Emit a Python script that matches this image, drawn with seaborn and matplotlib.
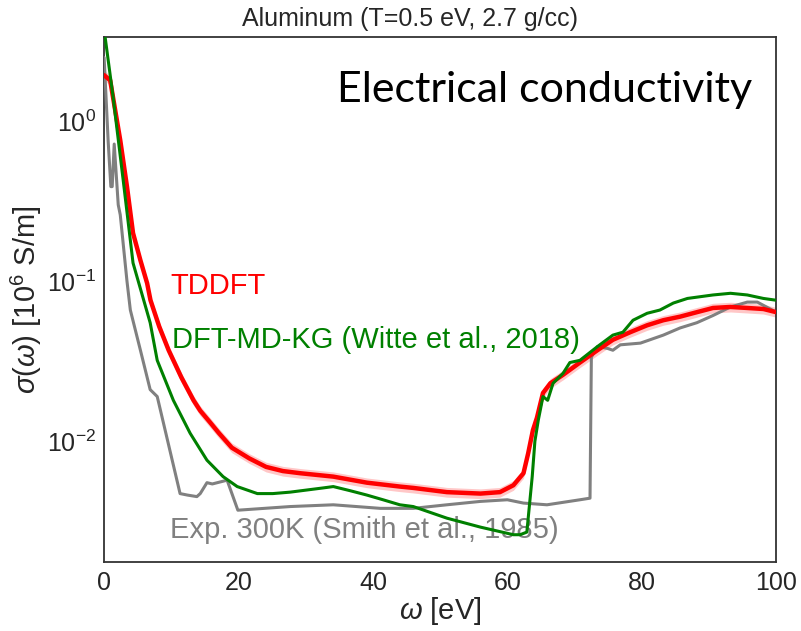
import numpy as np
import pandas as pd
import seaborn as sns
import matplotlib
matplotlib.use("Agg")
import matplotlib.pyplot as plt

# ---- data ----
tddft_w = [0.0, 0.9, 2.4, 3.4, 4.3, 5.4, 6.4, 6.9, 8.2, 9.6, 11.5, 13.3, 14.3, 15.7, 17.1,
           19.0, 21.6, 24.1, 26.6, 29.2, 34.1, 39.1, 44.0, 46.0, 51.0, 56.0, 58.9, 60.9,
           62.4, 63.1, 63.8, 64.4, 65.3, 66.4, 68.3, 70.8, 73.4, 75.7, 78.3, 80.8, 83.2,
           85.7, 88.2, 90.6, 93.2, 95.7, 98.1, 100.0]
tddft_s = [1.94, 1.80, 0.76, 0.39, 0.20, 0.135, 0.097, 0.076, 0.052, 0.037, 0.025, 0.018,
           0.0155, 0.0132, 0.0112, 0.0091, 0.0078, 0.0069, 0.0065, 0.0063, 0.0060, 0.0055,
           0.0052, 0.0051, 0.0048, 0.0047, 0.0048, 0.0053, 0.0063, 0.0084, 0.0117, 0.014,
           0.020, 0.023, 0.026, 0.031, 0.037, 0.043, 0.048, 0.053, 0.057, 0.060, 0.064,
           0.068, 0.069, 0.068, 0.067, 0.064]

kg_w = [0.0, 0.15, 1.34, 2.83, 4.3, 6.85, 7.9, 10.3, 12.8, 15.3, 17.7, 19.8, 22.8, 25.1,
        27.7, 32.6, 34.1, 36.6, 39.1, 41.5, 44.0, 46.0, 51.0, 56.0, 60.9, 61.9, 62.9,
        63.7, 64.1, 64.6, 65.3, 66.0, 66.8, 68.3, 69.3, 70.8, 73.4, 75.7, 77.2, 78.7,
        80.8, 82.7, 84.7, 86.8, 90.6, 93.2, 95.7, 98.1, 100.0]
kg_s = [4.0, 3.35, 1.41, 0.43, 0.13, 0.055, 0.032, 0.018, 0.0112, 0.0076, 0.0060,
        0.0052, 0.0047, 0.0047, 0.0048, 0.0051, 0.0052, 0.0049, 0.0046, 0.0043, 0.0040,
        0.0039, 0.0033, 0.0029, 0.0026, 0.0026, 0.0027, 0.0060, 0.0100, 0.0135, 0.019,
        0.018, 0.023, 0.0266, 0.031, 0.032, 0.039, 0.046, 0.048, 0.057, 0.063, 0.066,
        0.073, 0.078, 0.082, 0.084, 0.082, 0.078, 0.076]

exp_w = [0.0, 0.6, 1.0, 1.2, 1.5, 2.1, 2.4, 3.4, 3.9, 5.4, 6.85, 7.9, 11.3, 12.4, 13.8,
         14.3, 15.3, 16.1, 18.3, 19.9, 27.7, 34.1, 41.1, 46.0, 51.0, 56.0, 60.0, 62.4,
         65.9, 70.8, 72.3, 72.5, 73.1, 73.4, 74.9, 75.7, 76.8, 79.8, 83.2, 85.7, 88.2,
         90.6, 93.2, 95.7, 97.2, 100.0]
exp_s = [2.5, 0.75, 0.39, 0.39, 0.72, 0.30, 0.26, 0.10, 0.066, 0.037, 0.021, 0.019,
         0.0047, 0.0046, 0.0045, 0.0047, 0.0055, 0.0054, 0.0057, 0.0037, 0.0039, 0.0040,
         0.0038, 0.0038, 0.0040, 0.0042, 0.0043, 0.0041, 0.0040, 0.0043, 0.0044, 0.0335,
         0.037, 0.039, 0.038, 0.037, 0.040, 0.041, 0.046, 0.051, 0.055, 0.061, 0.069,
         0.074, 0.074, 0.064]

x_ticks = [0, 20, 40, 60, 80, 100]
title = "Aluminum (T=0.5 eV, 2.7 g/cc)"

# ---- style ----
sns.set_theme(style="white")
plt.rcParams["font.family"] = ["Liberation Sans", "DejaVu Sans"]
plt.rcParams["mathtext.fontset"] = "custom"
plt.rcParams["mathtext.rm"] = "Liberation Sans"
plt.rcParams["mathtext.it"] = "Liberation Sans:italic"

RED = "#ff0000"
GREEN = "#008000"
GRAY = "#808080"

fig = plt.figure(figsize=(8.01, 6.31), dpi=100)
ax = fig.add_axes([0.130, 0.109, 0.839, 0.832])

df_t = pd.DataFrame({"w": tddft_w, "s": tddft_s})
df_k = pd.DataFrame({"w": kg_w, "s": kg_s})
df_e = pd.DataFrame({"w": exp_w, "s": exp_s})

ax.fill_between(df_t["w"], df_t["s"] * 0.93, df_t["s"] * 1.07, color=RED, alpha=0.22,
                lw=0, zorder=2)
sns.lineplot(data=df_e, x="w", y="s", ax=ax, color=GRAY, lw=2.2, sort=False, zorder=3)
sns.lineplot(data=df_t, x="w", y="s", ax=ax, color=RED, lw=3.2, sort=False, zorder=4)
sns.lineplot(data=df_k, x="w", y="s", ax=ax, color=GREEN, lw=2.2, sort=False, zorder=5)

ax.set_yscale("log")
ax.set_xlim(0, 100)
ax.set_ylim(1.75e-3, 3.35)
ax.set_xticks(x_ticks)
ax.tick_params(labelsize=18, length=0, pad=6)
ax.set_xlabel(r"$\omega$ [eV]", fontsize=21, labelpad=0)
ax.set_ylabel(r"$\sigma(\omega)$ [10$^6$ S/m]", fontsize=21, labelpad=2)
fig.text(0.512, 0.970, title, fontsize=18, ha="center", va="center")

for sp in ax.spines.values():
    sp.set_color("#333333")
    sp.set_linewidth(1.3)

ax.text(9.8, 0.093, "TDDFT", color=RED, fontsize=21, va="center", ha="left", zorder=1)
ax.text(10.1, 0.043, "DFT-MD-KG (Witte et al., 2018)", color=GREEN, fontsize=21,
        va="center", ha="left", zorder=1)
ax.text(9.8, 0.0028, "Exp. 300K (Smith et al., 1985)", color=GRAY, fontsize=21,
        va="center", ha="left", zorder=1)
ax.text(0.964, 0.90, "Electrical conductivity", transform=ax.transAxes, fontsize=31,
        family=["Lato", "DejaVu Sans"], ha="right", va="center", color="black")

fig.savefig("out.png", dpi=100)
